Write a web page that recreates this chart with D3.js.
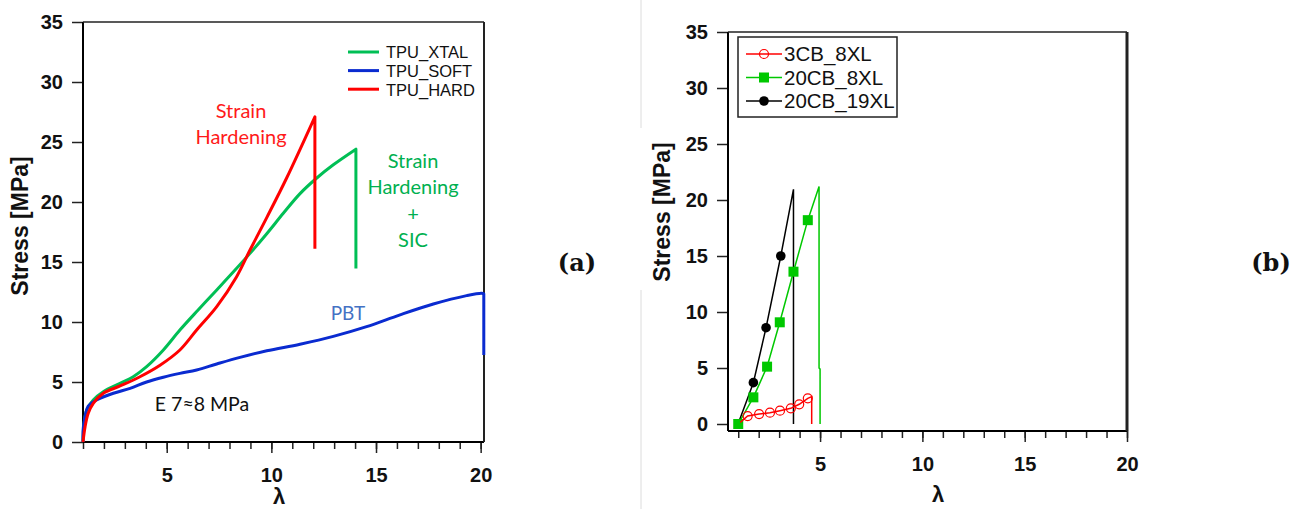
<!DOCTYPE html>
<html>
<head>
<meta charset="utf-8">
<script src="https://cdn.jsdelivr.net/npm/d3@7/dist/d3.min.js"></script>
<style>
  html, body { margin: 0; padding: 0; background: #fff; }
  svg { display: block; }
  .tick text { font-family: "Liberation Sans", Arial, sans-serif; font-weight: bold; font-size: 20px; fill: #111; }
  .tick line { stroke: #222; stroke-width: 1.5px; }
</style>
</head>
<body>
<script>
// ---------- Panel (a): TPU stress–strain curves ----------
const tpuXtalLambda = [1.0, 1.05, 1.18, 1.49, 1.97, 2.77, 3.40, 4.04, 4.84, 5.63, 6.5, 7.39, 8.2, 8.98, 9.8, 10.57, 11.37, 12.17, 12.96, 14.04, 14.04];
const tpuXtalStress = [0, 1.5, 2.67, 3.5, 4.19, 4.89, 5.44, 6.28, 7.67, 9.33, 11.0, 12.67, 14.2, 15.72, 17.4, 19.06, 20.7, 22.0, 23.1, 24.4, 14.45];

const tpuSoftLambda = [1.0, 1.02, 1.25, 1.65, 2.45, 3.25, 4.04, 4.84, 5.63, 6.43, 7.39, 8.5, 9.78, 11.37, 12.96, 14.55, 16.15, 17.74, 19.33, 20.05, 20.15, 20.15];
const tpuSoftStress = [0, 1.28, 3.0, 3.5, 4.06, 4.47, 5.0, 5.4, 5.72, 6.0, 6.5, 7.05, 7.6, 8.15, 8.8, 9.61, 10.6, 11.5, 12.2, 12.4, 12.35, 7.25];

const tpuHardLambda = [1.0, 1.1, 1.25, 1.49, 1.97, 2.77, 3.72, 4.68, 5.63, 6.43, 7.39, 8.34, 8.98, 9.78, 10.73, 12.08, 12.08];
const tpuHardStress = [0, 1.28, 2.39, 3.22, 4.06, 4.67, 5.44, 6.4, 7.67, 9.33, 11.28, 13.78, 16.0, 18.7, 22.0, 27.1, 16.1];

const seriesA = ["TPU_XTAL", "TPU_SOFT", "TPU_HARD"];
const colorsA = ["#00bf55", "#0a2bd0", "#ff0000"];

// ---------- Panel (b): carbon-black filled samples ----------
const cb3Lambda = [1.1, 1.46, 2.02, 2.55, 3.04, 3.57, 3.98, 4.40, 4.59, 4.59];
const cb3Stress = [0.15, 0.71, 0.89, 1.01, 1.19, 1.40, 1.76, 2.29, 2.44, 0];
const cb3Marks = [1, 2, 3, 4, 5, 6, 7];

const cb20Lambda = [1.0, 1.74, 2.41, 3.03, 3.70, 4.40, 4.95, 4.95, 5.0, 5.0];
const cb20Stress = [0, 2.38, 5.12, 9.08, 13.6, 18.2, 21.2, 5.0, 4.9, 0];
const cb20Marks = [0, 1, 2, 3, 4, 5];

const cb20x19Lambda = [1.0, 1.74, 2.36, 3.08, 3.70, 3.70];
const cb20x19Stress = [0.05, 3.69, 8.6, 15.0, 20.95, 0];
const cb20x19Marks = [1, 2, 3];

const seriesB = ["3CB_8XL", "20CB_8XL", "20CB_19XL"];
const colorsB = ["#ff0000", "#00c800", "#000000"];

const yTicks = [0, 5, 10, 15, 20, 25, 30, 35];
const xMajor = [5, 10, 15, 20];
const xMinor = d3.range(1, 21);

const W = 1301, H = 509;
const svg = d3.select("body").append("svg").attr("width", W).attr("height", H);
const AX_FONT = '"Liberation Sans", Arial, sans-serif';
const NOTE_FONT = 'Lato, "Open Sans", sans-serif';

// faint divider between the two panels
svg.append("line").attr("x1", 641).attr("x2", 641).attr("y1", 0).attr("y2", 128)
  .attr("stroke", "#dcdcdc").attr("stroke-width", 1);
svg.append("line").attr("x1", 641).attr("x2", 641).attr("y1", 290).attr("y2", H)
  .attr("stroke", "#dcdcdc").attr("stroke-width", 1);

function zip(xs, ys) { return xs.map((x, i) => [x, ys[i]]); }

function drawAxes(g, x, y, axisY, frameTopW, frameRightW) {
  const [x0, x1] = x.range();
  const yTop = y(35);
  // minor ticks
  g.append("g").attr("transform", `translate(0,${axisY})`)
    .call(d3.axisBottom(x).tickValues(xMinor).tickSize(7).tickSizeOuter(0).tickFormat(""))
    .call(s => s.select(".domain").remove());
  // major ticks with labels
  g.append("g").attr("transform", `translate(0,${axisY})`)
    .call(d3.axisBottom(x).tickValues(xMajor).tickSize(11).tickSizeOuter(0))
    .call(s => s.select(".domain").remove())
    .call(s => s.selectAll("text").attr("y", 26).attr("dy", "0.72em"));
  // y axis
  g.append("g").attr("transform", `translate(${x0},0)`)
    .call(d3.axisLeft(y).tickValues(yTicks).tickSize(11).tickSizeOuter(0).tickPadding(9))
    .call(s => s.select(".domain").remove());
  // axis lines and frame
  g.append("line").attr("x1", x0).attr("x2", x0).attr("y1", yTop).attr("y2", axisY)
    .attr("stroke", "#000").attr("stroke-width", 2);
  g.append("line").attr("x1", x0).attr("x2", x1).attr("y1", axisY).attr("y2", axisY)
    .attr("stroke", "#000").attr("stroke-width", 2);
  g.append("line").attr("x1", x0).attr("x2", x1).attr("y1", yTop).attr("y2", yTop)
    .attr("stroke", "#222").attr("stroke-width", frameTopW);
  g.append("line").attr("x1", x1).attr("x2", x1).attr("y1", yTop).attr("y2", axisY)
    .attr("stroke", "#222").attr("stroke-width", frameRightW);
}

function axisTitles(g, cx, cy, lx, ly) {
  g.append("text").attr("transform", `translate(${cx},${cy}) rotate(-90)`)
    .attr("text-anchor", "middle").attr("dy", "0.35em")
    .style("font-family", AX_FONT).style("font-weight", "bold").style("font-size", "23px")
    .attr("fill", "#111").text("Stress [MPa]");
  g.append("text").attr("x", lx).attr("y", ly).attr("text-anchor", "middle")
    .style("font-family", AX_FONT).style("font-weight", "bold").style("font-size", "22px")
    .attr("fill", "#111").text("λ");
}

// ================= Panel (a) =================
const xA = d3.scaleLinear().domain([1, 20.16]).range([83, 484]);
const yA = d3.scaleLinear().domain([0, 35]).range([442, 22]);
const gA = svg.append("g");
drawAxes(gA, xA, yA, 442, 1.5, 2);
axisTitles(gA, 20, 226, 279, 504);

const smoothA = d3.line().x(d => xA(d[0])).y(d => yA(d[1])).curve(d3.curveCatmullRom.alpha(0.5));
function curveWithDrop(pts) {
  const rise = pts.slice(0, -1);
  const last = pts[pts.length - 1];
  return smoothA(rise) + `L${xA(last[0])},${yA(last[1])}`;
}
const dataA = [
  zip(tpuXtalLambda, tpuXtalStress),
  zip(tpuSoftLambda, tpuSoftStress),
  zip(tpuHardLambda, tpuHardStress)
];
dataA.forEach((pts, i) => {
  gA.append("path").attr("d", curveWithDrop(pts)).attr("fill", "none")
    .attr("stroke", colorsA[i]).attr("stroke-width", 3).attr("stroke-linejoin", "round");
});

// legend (a)
const legA = gA.append("g");
seriesA.forEach((name, i) => {
  const yy = 52 + i * 18.6;
  legA.append("line").attr("x1", 348).attr("x2", 379).attr("y1", yy).attr("y2", yy)
    .attr("stroke", colorsA[i]).attr("stroke-width", 3);
  legA.append("text").attr("x", 386).attr("y", yy + 6.3)
    .style("font-family", AX_FONT).style("font-size", "16.5px").attr("fill", "#111").text(name);
});

// annotations (a)
function note(g, x, y, txt, color, size) {
  g.append("text").attr("x", x).attr("y", y).attr("text-anchor", "middle")
    .style("font-family", NOTE_FONT).style("font-size", size + "px").attr("fill", color).text(txt);
}
note(gA, 241, 118, "Strain", "#ff1a1a", 20);
note(gA, 241, 144, "Hardening", "#ff1a1a", 20);
note(gA, 413, 168, "Strain", "#00b050", 20);
note(gA, 413, 194, "Hardening", "#00b050", 20);
note(gA, 413, 221, "+", "#00b050", 20);
note(gA, 413, 247, "SIC", "#00b050", 20);
note(gA, 348, 320, "PBT", "#4472c4", 19);
note(gA, 202, 411, "E 7≈8 MPa", "#111", 19.5);

svg.append("text").attr("x", 577).attr("y", 271).attr("text-anchor", "middle")
  .style("font-family", '"DejaVu Serif", serif').style("font-weight", "bold").style("font-size", "24px")
  .attr("fill", "#111").text("(a)");

// ================= Panel (b) =================
const xB = d3.scaleLinear().domain([0.5, 20]).range([728, 1127]);
const yB = d3.scaleLinear().domain([0, 35]).range([424, 32]);
const gB = svg.append("g");
drawAxes(gB, xB, yB, 431, 1.5, 3);
axisTitles(gB, 662, 212, 938, 502);

const lineB = d3.line().x(d => xB(d[0])).y(d => yB(d[1]));
const dataB = [
  { pts: zip(cb20x19Lambda, cb20x19Stress), marks: cb20x19Marks, c: colorsB[2], shape: "dot" },
  { pts: zip(cb20Lambda, cb20Stress), marks: cb20Marks, c: colorsB[1], shape: "square" },
  { pts: zip(cb3Lambda, cb3Stress), marks: cb3Marks, c: colorsB[0], shape: "ring" }
];

function marker(g, shape, cx, cy, c) {
  if (shape === "square") {
    g.append("rect").attr("x", cx - 5).attr("y", cy - 5).attr("width", 10).attr("height", 10).attr("fill", c);
  } else if (shape === "dot") {
    g.append("circle").attr("cx", cx).attr("cy", cy).attr("r", 4.8).attr("fill", c);
  } else {
    g.append("circle").attr("cx", cx).attr("cy", cy).attr("r", 4.5)
      .attr("fill", "none").attr("stroke", c).attr("stroke-width", 1.2);
  }
}

dataB.forEach(s => {
  gB.append("path").attr("d", lineB(s.pts)).attr("fill", "none")
    .attr("stroke", s.c).attr("stroke-width", 1.5);
  s.marks.forEach(k => marker(gB, s.shape, xB(s.pts[k][0]), yB(s.pts[k][1]), s.c));
});

// legend (b)
const legB = gB.append("g");
legB.append("rect").attr("x", 738).attr("y", 37).attr("width", 159).attr("height", 80)
  .attr("fill", "#fff").attr("stroke", "#222").attr("stroke-width", 1.5);
const shapesB = ["ring", "square", "dot"];
seriesB.forEach((name, i) => {
  const yy = 54 + i * 23.5;
  legB.append("line").attr("x1", 746).attr("x2", 782).attr("y1", yy).attr("y2", yy)
    .attr("stroke", colorsB[i]).attr("stroke-width", 1.5);
  marker(legB, shapesB[i], 764, yy, colorsB[i]);
  legB.append("text").attr("x", 784).attr("y", yy + 7)
    .style("font-family", AX_FONT).style("font-size", "20.5px").attr("fill", "#111").text(name);
});

svg.append("text").attr("x", 1271).attr("y", 271).attr("text-anchor", "middle")
  .style("font-family", '"DejaVu Serif", serif').style("font-weight", "bold").style("font-size", "24px")
  .attr("fill", "#111").text("(b)");
</script>
</body>
</html>
